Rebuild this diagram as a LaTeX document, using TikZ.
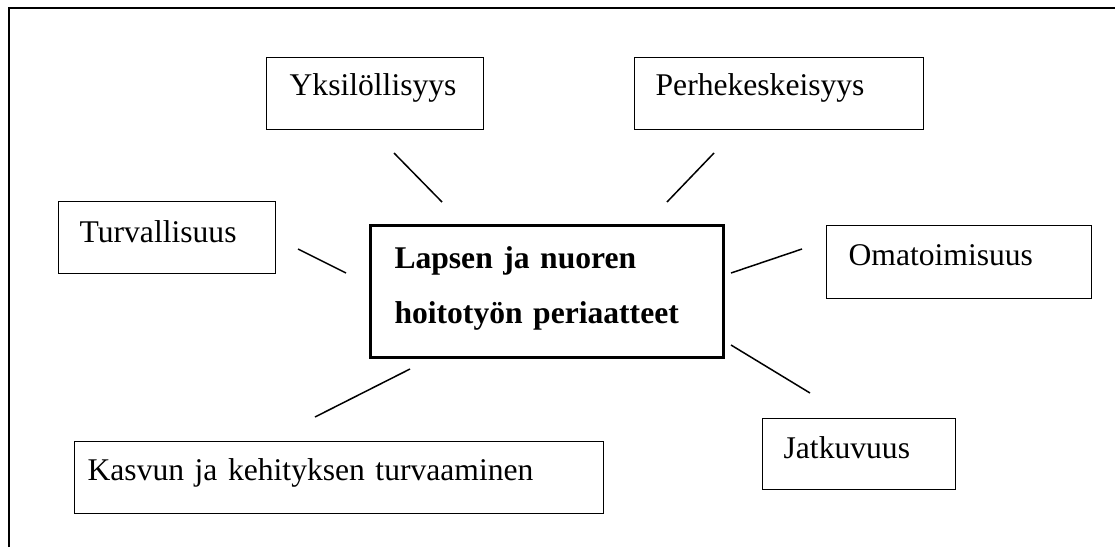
\documentclass[tikz,border=0pt]{standalone}
\usepackage{fontspec}
\setmainfont{Liberation Serif}
\tikzset{
  boxnode/.style={draw, line width=1.3pt, rectangle, anchor=north west,
    inner ysep=0pt, align=left, font=\fontsize{31.6}{55}\selectfont},
  mainbox/.style={boxnode, line width=3pt, font=\fontsize{31.6}{55}\selectfont\bfseries},
  link/.style={line width=1.5pt},
  frame/.style={line width=2pt}
}
\begin{document}
\begin{tikzpicture}[x=1pt,y=-1pt]
\useasboundingbox (0,0) rectangle (1115,547);
\draw[frame] (9,547) -- (9,8) -- (1115,8);

\node[boxnode, inner xsep=23pt, text width=171pt, text height=38pt, text depth=34pt] (yks) at (266,57) {Yksilöllisyys};
\node[boxnode, inner xsep=21pt, text width=247pt, text height=38pt, text depth=34pt] (perhe) at (634,57) {Perhekeskeisyys};
\node[boxnode, inner xsep=21pt, text width=175pt, text height=41pt, text depth=31pt] (turva) at (58,201) {Turvallisuus};
\node[boxnode, inner xsep=22pt, text width=221pt, text height=40pt, text depth=33pt] (oma) at (826,225) {Omatoimisuus};
\node[boxnode, inner xsep=21pt, text width=151pt, text height=40pt, text depth=31pt] (jatk) at (762,418) {Jatkuvuus};
\node[boxnode, inner xsep=13pt, text width=503pt, text height=39pt, text depth=33pt] (kasvu) at (74,441) {Kasvun ja kehityksen turvaaminen};
\node[mainbox, inner xsep=24pt, text width=305pt, text height=43pt, text depth=89pt] (main) at (369,224) {Lapsen ja nuoren\\hoitotyön periaatteet};

\coordinate (y1) at (394,153); \coordinate (y2) at (442,202);
\coordinate (p1) at (714,153); \coordinate (p2) at (667,202);
\coordinate (t1) at (298,249); \coordinate (t2) at (346,273);
\coordinate (o1) at (802,249); \coordinate (o2) at (731,273);
\coordinate (j1) at (810,393); \coordinate (j2) at (731,345);
\coordinate (k1) at (315,417); \coordinate (k2) at (410,369);

\draw[link] (y1) -- (y2);
\draw[link] (p1) -- (p2);
\draw[link] (t1) -- (t2);
\draw[link] (o1) -- (o2);
\draw[link] (j1) -- (j2);
\draw[link] (k1) -- (k2);
\end{tikzpicture}
\end{document}
